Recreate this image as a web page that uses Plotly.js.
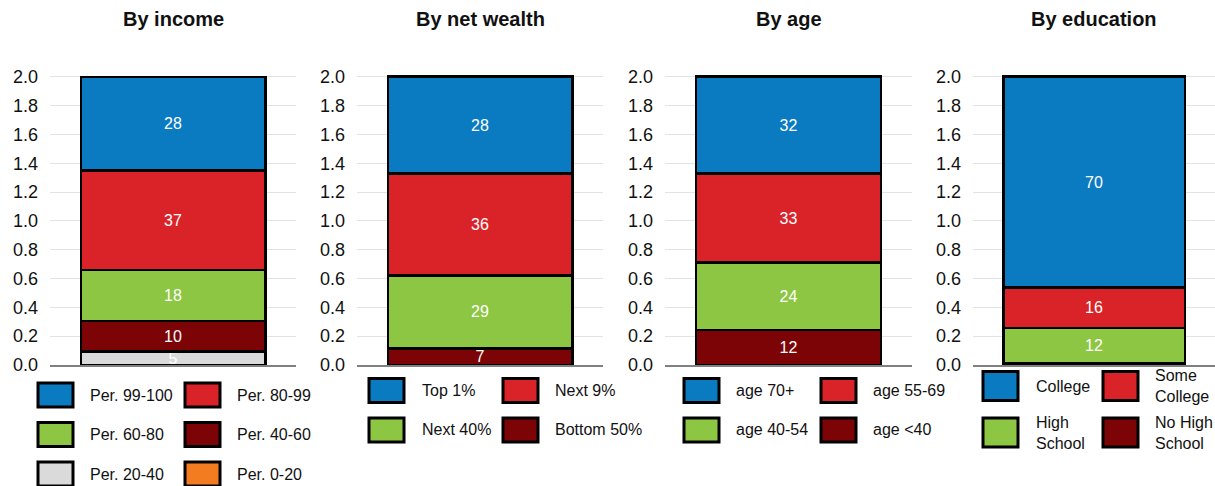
<!DOCTYPE html>
<html>
<head>
<meta charset="utf-8">
<script src="https://cdn.plot.ly/plotly-3.0.1.min.js"></script>
<style>html,body{margin:0;padding:0;background:#fff;}#chart{width:1215px;height:486px;}</style>
</head>
<body>
<div id="chart"></div>
<script>
// ---- data ----
const panelTitles = ['By income', 'By net wealth', 'By age', 'By education'];
const palette = ['#0a7bc1', '#da2229', '#8dc642', '#7d0406', '#dadada', '#f47c20'];

const incomeNames = ['Per. 99-100', 'Per. 80-99', 'Per. 60-80', 'Per. 40-60', 'Per. 20-40', 'Per. 0-20'];
const incomeValues = [0.650, 0.690, 0.353, 0.214, 0.092, 0.0];
const incomeLabels = ['28', '37', '18', '10', '5', ''];

const wealthNames = ['Top 1%', 'Next 9%', 'Next 40%', 'Bottom 50%'];
const wealthValues = [0.670, 0.708, 0.507, 0.115];
const wealthLabels = ['28', '36', '29', '7'];

const ageNames = ['age 70+', 'age 55-69', 'age 40-54', 'age <40'];
const ageValues = [0.673, 0.617, 0.466, 0.244];
const ageLabels = ['32', '33', '24', '12'];

const eduNames = ['College', 'Some<br>College', 'High<br>School', 'No High<br>School'];
const eduValues = [1.463, 0.279, 0.248, 0.010];
const eduLabels = ['70', '16', '12', ''];

const yTicks = [0, 0.2, 0.4, 0.6, 0.8, 1.0, 1.2, 1.4, 1.6, 1.8, 2.0];

// ---- layout helpers ----
const W = 1215, H = 486, MT = 75, MB = 121;
const plotH = H - MT - MB;
const px2x = p => p / W;
const py2y = p => (H - MB - p) / plotH;

const panels = [
  {names: incomeNames, values: incomeValues, labels: incomeLabels, dom: [50, 296],
   leg: {box: [38, 185], text: [88, 235], rows: [395, 434.5, 474], bh: 24}},
  {names: wealthNames, values: wealthValues, labels: wealthLabels, dom: [357, 603],
   leg: {box: [369, 503], text: [420, 553], rows: [390.5, 430], bh: 24}},
  {names: ageNames, values: ageValues, labels: ageLabels, dom: [665, 912],
   leg: {box: [684, 821], text: [734, 871], rows: [390.5, 430], bh: 24}},
  {names: eduNames, values: eduValues, labels: eduLabels, dom: [973, 1215],
   leg: {box: [983, 1103], text: [1034, 1153], rows: [386, 432.5], bh: 29}}
];

const FONT = 'Arial, "Liberation Sans", sans-serif';
const traces = [];
const layout = {
  width: W, height: H,
  margin: {l: 0, r: 0, t: MT, b: MB, pad: 0},
  paper_bgcolor: '#ffffff', plot_bgcolor: '#ffffff',
  barmode: 'stack', bargap: 0.25, showlegend: false,
  font: {family: FONT, color: '#111111', size: 16},
  uniformtext: {mode: 'show', minsize: 16},
  shapes: [], annotations: []
};

panels.forEach((p, i) => {
  const k = i === 0 ? '' : String(i + 1);
  const xa = 'x' + k, ya = 'y' + k;
  // stack bottom-up: reverse order
  for (let j = p.names.length - 1; j >= 0; j--) {
    traces.push({
      type: 'bar', x: [panelTitles[i]], y: [p.values[j]],
      name: p.names[j].replace('<br>', ' '),
      text: [p.labels[j]], textposition: 'inside', insidetextanchor: 'middle',
      textangle: 0, constraintext: 'none',
      textfont: {family: FONT, size: 16, color: '#ffffff'},
      marker: {color: palette[j], line: {color: '#000000', width: 2.5}},
      xaxis: xa, yaxis: ya, hoverinfo: 'skip'
    });
  }
  layout['xaxis' + k] = {
    domain: [px2x(p.dom[0]), px2x(p.dom[1])], anchor: ya,
    showticklabels: false, ticks: '', showgrid: false, zeroline: false,
    showline: true, linecolor: '#808080', linewidth: 1.5, fixedrange: true
  };
  layout['yaxis' + k] = {
    domain: [0, 1], anchor: xa, range: [0, 2.012],
    tickvals: yTicks, tickformat: '.1f', ticks: '', ticklabelstandoff: 11,
    tickfont: {family: FONT, size: 18, color: '#111111'},
    showgrid: true, gridcolor: '#e3e3e3', gridwidth: 1,
    zeroline: false, showline: false, fixedrange: true
  };
  // panel title
  layout.annotations.push({
    xref: 'paper', yref: 'paper',
    x: px2x((p.dom[0] + p.dom[1]) / 2), y: py2y(19),
    xanchor: 'center', yanchor: 'middle', showarrow: false,
    text: '<b>' + panelTitles[i] + '</b>',
    font: {family: FONT, size: 20, color: '#111111'}
  });
  // legend: two columns, built from series names & colours
  p.names.forEach((nm, j) => {
    const col = j % 2, row = Math.floor(j / 2);
    const cy = p.leg.rows[row];
    const bx = p.leg.box[col];
    layout.shapes.push({
      type: 'rect', xref: 'paper', yref: 'paper',
      x0: px2x(bx), x1: px2x(bx + 35),
      y0: py2y(cy - p.leg.bh / 2), y1: py2y(cy + p.leg.bh / 2),
      fillcolor: palette[j], line: {color: '#000000', width: 3}
    });
    layout.annotations.push({
      xref: 'paper', yref: 'paper',
      x: px2x(p.leg.text[col]), y: py2y(cy),
      xanchor: 'left', yanchor: 'middle', align: 'left', showarrow: false,
      text: nm, font: {family: FONT, size: 16, color: '#111111'}
    });
  });
});

Plotly.newPlot('chart', traces, layout, {staticPlot: true, displayModeBar: false});
</script>
</body>
</html>
